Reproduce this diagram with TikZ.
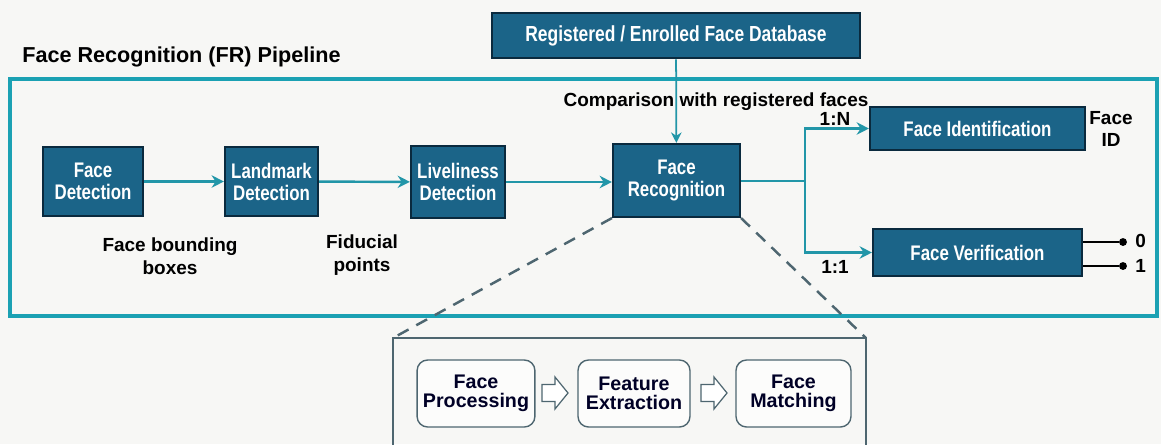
\documentclass[tikz,border=0pt]{standalone}
\usepackage{fontspec}
\setmainfont{Liberation Sans}
\newfontfamily\narrowbf[FakeStretch=0.8]{Liberation Sans Bold}
\usetikzlibrary{arrows.meta,calc}
\definecolor{boxfill}{HTML}{1B6488}
\definecolor{boxline}{HTML}{0A2A3E}
\definecolor{teal}{HTML}{1BA1B3}
\definecolor{flow}{HTML}{2296A8}
\definecolor{dashgray}{HTML}{4E6670}
\definecolor{bg}{HTML}{F7F7F5}
\tikzset{
  stage/.style={draw=boxline, line width=1.2pt, fill=boxfill, text=white,
    font=\narrowbf\fontsize{12}{12.5}\selectfont, align=center, inner sep=2pt},
  flowline/.style={draw=flow, line width=1.4pt},
  flowarrow/.style={flowline, -{Stealth[length=7pt,width=7pt]}},
  sublabel/.style={font=\bfseries\fontsize{10.8}{13}\selectfont, align=center, text=black},
  substep/.style={draw=dashgray, line width=0.8pt, rounded corners=6pt, fill=white!60!bg,
    minimum width=2.28cm, minimum height=1.34cm, align=center,
    font=\fontsize{11.2}{11}\selectfont\bfseries, text=black!85!blue},
  hollowarrow/.style={draw=dashgray, fill=white, line width=0.7pt, line join=miter},
  outdot/.style={circle, fill=black, inner sep=0pt, minimum size=4.5pt},
}
\begin{document}
\begin{tikzpicture}[x=0.02cm, y=-0.02cm]
  \useasboundingbox (0,0) rectangle (1161,444);
  \fill[bg] (0,0) rectangle (1161,444);

  % title and pipeline frame
  \node[anchor=base west, inner sep=0pt, font=\bfseries\fontsize{12.3}{14}\selectfont] (title) at (22,62) {Face Recognition (FR) Pipeline};
  \draw[teal, line width=2.4pt] (10,79) rectangle (1157,316);

  % enrolled database
  \node[stage, minimum width=7.36cm, minimum height=0.9cm, line width=1.6pt,
        font=\narrowbf\fontsize{12.4}{13}\selectfont] (db) at (676,35.5)
       {Registered / Enrolled Face Database};

  % pipeline stages
  \node[stage, minimum width=2cm, minimum height=1.38cm] (fd) at (93,181.5) {Face\\Detection};
  \node[stage, minimum width=1.86cm, minimum height=1.38cm] (lm) at (271.5,181.5) {Landmark\\Detection};
  \node[stage, minimum width=1.88cm, minimum height=1.44cm] (lv) at (458,182) {Liveliness\\Detection};
  \node[stage, minimum width=2.54cm, minimum height=1.46cm] (fr) at (676.5,180.5) {Face\\Recognition};
  \node[stage, minimum width=4.3cm, minimum height=0.86cm] (fid) at (977.5,128.5) {Face Identification};
  \node[stage, minimum width=4.18cm, minimum height=0.94cm] (fv) at (977.5,252.5) {Face Verification};

  % connectors
  \draw[flowarrow] (fd) -- (lm);
  \draw[flowarrow] (lm) -- (lv);
  \draw[flowarrow] (lv.east) -- (fr.west |- lv.east);
  \draw[flowline, line width=1pt, -{Stealth[length=6pt,width=6pt]}] (db) -- (fr);
  \coordinate (split) at (805,181);
  \draw[flowline] (fr.east |- split) -- (split);
  \draw[flowarrow] (split) |- (fid.west);
  \draw[flowarrow] (split) |- (fv.west);

  % labels
  \node[sublabel, anchor=base] (cmp) at (716,106) {Comparison with registered faces};
  \node[sublabel, anchor=base] (n1) at (835,125) {1:N};
  \node[sublabel, anchor=base] (one1) at (835,273) {1:1};
  \node[sublabel, font=\bfseries\fontsize{10.8}{12.5}\selectfont] (fidout) at (1111,129) {Face\\ID};
  \node[sublabel, font=\bfseries\fontsize{10.8}{13}\selectfont] (bbox) at (170,256) {Face bounding\\boxes};
  \node[sublabel, font=\bfseries\fontsize{10.8}{13}\selectfont] (fid2) at (362,255) {Fiducial\\points};

  % verification outputs
  \node[outdot] (o0) at (1123,242) {};
  \node[outdot] (o1) at (1123,266) {};
  \draw[line width=1.4pt] (fv.east |- o0) -- (o0);
  \draw[line width=1.4pt] (fv.east |- o1) -- (o1);
  \node[sublabel, anchor=west, inner sep=0pt] (l0) at (1135,241) {0};
  \node[sublabel, anchor=west, inner sep=0pt] (l1) at (1135,266) {1};

  % recognition detail
  \coordinate (dl) at (393,338);
  \coordinate (dr) at (866,338);
  \draw[dashgray, line width=1.4pt, dash pattern=on 7pt off 5pt] (fr.south west) -- (dl);
  \draw[dashgray, line width=1.4pt, dash pattern=on 7pt off 5pt] (fr.south east) -- (dr);
  \draw[dashgray, line width=1.4pt] (393,460) -- (dl) -- (dr) -- (866,460);

  \node[substep] (fp) at (476,393.5) {Face\\Processing};
  \node[substep, minimum width=2.24cm] (fe) at (634,393.5) {Feature\\Extraction};
  \node[substep, minimum width=2.3cm] (fm) at (793.5,393.5) {Face\\Matching};

  % hollow block arrows between the steps
  \coordinate (a1) at (542,393);
  \coordinate (a2) at (701,393);
  \foreach \a in {a1,a2}
    \draw[hollowarrow] ($(\a)+(0,-8.5)$) -- ++(13,0) -- ++(0,-7.5) -- ++(13,16)
      -- ++(-13,16) -- ++(0,-7.5) -- ++(-13,0) -- cycle;
\end{tikzpicture}
\end{document}
